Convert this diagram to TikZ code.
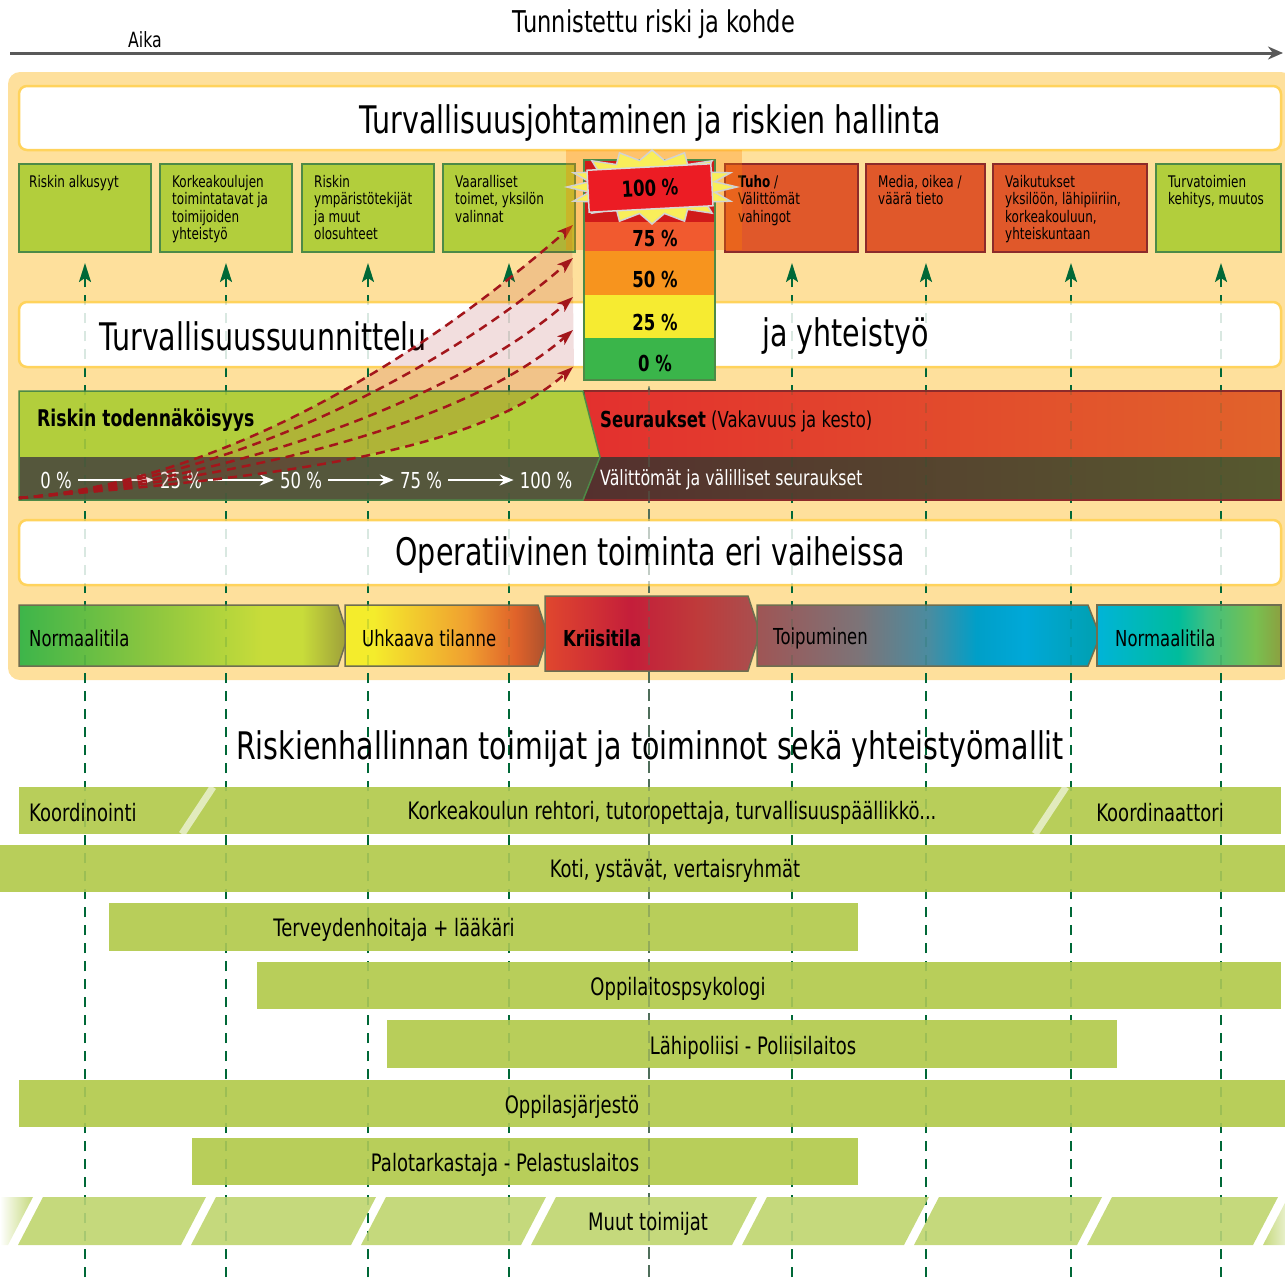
\documentclass[tikz,border=0pt]{standalone}
\usepackage{fontspec}
\setmainfont{DejaVu Sans}[FakeStretch=0.75]
\usetikzlibrary{arrows.meta,calc}

\definecolor{paneeli}{HTML}{FEE09C}
\definecolor{paneelireuna}{HTML}{FFD35C}
\definecolor{vihrea}{HTML}{B2CE3C}
\definecolor{vihreareuna}{HTML}{4D8A47}
\definecolor{punainen}{HTML}{E0582A}
\definecolor{punareuna}{HTML}{8C2B2B}
\definecolor{nuolivari}{HTML}{006837}
\definecolor{palkkivari}{HTML}{B8CE5A}
\definecolor{palkkivaalea}{HTML}{C5D97C}
\definecolor{tumma}{HTML}{55573C}
\definecolor{punaviiva}{HTML}{A3161B}
\definecolor{harmaa}{HTML}{6E6E50}
\definecolor{keski}{HTML}{4F6E5A}
\definecolor{sata}{HTML}{EC1C24}
\definecolor{m100}{HTML}{D01A1A}
\definecolor{m75}{HTML}{F15A2F}
\definecolor{m50}{HTML}{F7941E}
\definecolor{m25}{HTML}{F6EB31}
\definecolor{m0}{HTML}{3AB54A}
\definecolor{tahti}{HTML}{F9EE5A}
\definecolor{seur1}{HTML}{E3302E}
\definecolor{seur2}{HTML}{E1632B}
\definecolor{seur3}{HTML}{55302E}
\definecolor{seur4}{HTML}{56592F}
% vaiheiden varit
\definecolor{na1}{HTML}{3DB54A}\definecolor{na2}{HTML}{8CC63F}\definecolor{na3}{HTML}{C8DC3A}\definecolor{na4}{HTML}{9C9D3A}
\definecolor{uh1}{HTML}{F4EC2C}\definecolor{uh2}{HTML}{F0A030}\definecolor{uh3}{HTML}{E0622A}\definecolor{uh4}{HTML}{A8502E}
\definecolor{kr1}{HTML}{E0472E}\definecolor{kr2}{HTML}{C41E3A}\definecolor{kr3}{HTML}{BF3A3A}\definecolor{kr4}{HTML}{A85050}
\definecolor{to1}{HTML}{9F5555}\definecolor{to2}{HTML}{7C7478}\definecolor{to3}{HTML}{4A8CA0}\definecolor{to4}{HTML}{009FC8}
\definecolor{to5}{HTML}{00A8D8}\definecolor{to6}{HTML}{00A0B0}
\definecolor{nb1}{HTML}{00B4D8}\definecolor{nb2}{HTML}{00BC9C}\definecolor{nb3}{HTML}{40C080}\definecolor{nb4}{HTML}{78C050}\definecolor{nb5}{HTML}{8CA040}

% vaiheiden liukuvarit
\pgfdeclarehorizontalshading{normaaliA}{100bp}{color(0bp)=(na1); color(25bp)=(na1);
  color(45bp)=(na2); color(62bp)=(na3); color(68bp)=(na3); color(75bp)=(na4); color(100bp)=(na4)}
\pgfdeclarehorizontalshading{uhkaava}{100bp}{color(0bp)=(uh1); color(25bp)=(uh1);
  color(32bp)=(uh1); color(55bp)=(uh2); color(67bp)=(uh3); color(75bp)=(uh4); color(100bp)=(uh4)}
\pgfdeclarehorizontalshading{kriisi}{100bp}{color(0bp)=(kr1); color(25bp)=(kr1);
  color(45bp)=(kr2); color(60bp)=(kr3); color(75bp)=(kr4); color(100bp)=(kr4)}
\pgfdeclarehorizontalshading{toipuminen}{100bp}{color(0bp)=(to1); color(25bp)=(to1);
  color(40bp)=(to2); color(50bp)=(to3); color(57bp)=(to4); color(64bp)=(to5); color(75bp)=(to6); color(100bp)=(to6)}
\pgfdeclarehorizontalshading{normaaliB}{100bp}{color(0bp)=(nb1); color(25bp)=(nb1);
  color(47bp)=(nb2); color(55bp)=(nb3); color(68bp)=(nb4); color(75bp)=(nb5); color(100bp)=(nb5)}

\begin{document}
\begin{tikzpicture}[x=1pt,y=-1pt,
    teksti/.style={inner sep=0pt, yshift=-2pt},
    valkoinen/.style={draw=paneelireuna, line width=2.5pt, fill=white, rounded corners=8pt},
    laatikko/.style={draw=vihreareuna, line width=1.5pt, fill=vihrea},
    punalaatikko/.style={draw=punareuna, line width=1.5pt, fill=punainen},
    pieni/.style={teksti, font=\fontsize{16}{17.5}\selectfont, anchor=north west, align=left},
    iso/.style={teksti, font=\fontsize{38}{44}\selectfont},
    viiva/.style={nuolivari, line width=2pt, dash pattern=on 10pt off 8pt, -{Stealth[length=19pt,width=12pt,inset=4pt]}},
    haamu/.style={nuolivari, opacity=.15, line width=2pt, dash pattern=on 10pt off 8pt},
    keskiviiva/.style={keski, line width=1.5pt, dash pattern=on 12pt off 6pt, -{Stealth[length=14pt,width=9pt]}},
    palkki/.style={fill=palkkivari},
    palkkiteksti/.style={teksti, font=\fontsize{24}{28}\selectfont},
    mittari/.style={teksti, font=\bfseries\fontsize{22}{26}\selectfont},
    vaihe/.style={draw=harmaa, line width=1.5pt},
    vaiheteksti/.style={teksti, font=\fontsize{22}{26}\selectfont, anchor=west},
    prosentti/.style={white, font=\fontsize{22}{26}\selectfont, inner sep=6pt, yshift=-2pt},
    valkonuoli/.style={white, line width=2pt, -{Stealth[length=14pt,width=11pt]}},
    kayra/.style={punaviiva, line width=2.5pt, dash pattern=on 9pt off 6pt, -{Stealth[length=16pt,width=11pt,inset=4pt]}}]

    \clip (0,0) rectangle (1285,1277);

    % aika-akseli
    \coordinate (alku) at (10,53);
    \coordinate (loppu) at (1283,53);
    \draw[gray!70!black, line width=3pt, -{Stealth[length=15pt,width=13pt]}] (alku) -- (loppu);
    \node[teksti, font=\fontsize{21}{24}\selectfont] (aika) at (145,38) {Aika};
    \node[teksti, font=\fontsize{30}{34}\selectfont] (kohde) at (654,22) {Tunnistettu riski ja kohde};

    % taustapaneeli
    \path[fill=paneeli, rounded corners=12pt] (8,72) rectangle (1293,680);

    % pystyviivat
    \foreach \x [count=\i] in {85,226,368,509,792,926,1071,1221}{
        \coordinate (ala\i) at (\x,1277);
        \coordinate (yla\i) at (\x,263);
        \draw[viiva] (ala\i) -- (yla\i);
    }
    \coordinate (keskiala) at (649,1277);
    \coordinate (keskiyla) at (649,386);
    \draw[keskiviiva] (keskiala) -- (keskiyla);

    % johtaminen
    \path[valkoinen] (19,86) rectangle (1281,150);
    \node[iso] (johto) at (650,121) {Turvallisuusjohtaminen ja riskien hallinta};

    % riskin vaiheet
    \path[laatikko] (19,164) rectangle (151,252);
    \path[laatikko] (160,164) rectangle (292,252);
    \path[laatikko] (302,164) rectangle (434,252);
    \path[laatikko] (443,164) rectangle (575,252);
    \path[punalaatikko] (725,164) rectangle (858,252);
    \path[punalaatikko] (866,164) rectangle (985,252);
    \path[punalaatikko] (993,164) rectangle (1147,252);
    \path[laatikko] (1156,164) rectangle (1281,252);
    \node[pieni] (syyt) at (29,173) {Riskin alkusyyt};
    \node[pieni] (tavat) at (172,173) {Korkeakoulujen\\toimintatavat ja\\toimijoiden\\yhteistyö};
    \node[pieni] (tekijat) at (314,173) {Riskin\\ympäristötekijät\\ja muut\\olosuhteet};
    \node[pieni] (toimet) at (455,173) {Vaaralliset\\toimet, yksilön\\valinnat};
    \node[pieni] (tuho) at (738,173) {\textbf{Tuho} /\\Välittömät\\vahingot};
    \node[pieni] (media) at (878,173) {Media, oikea /\\väärä tieto};
    \node[pieni] (vaikutus) at (1005,173) {Vaikutukset\\yksilöön, lähipiiriin,\\korkeakouluun,\\yhteiskuntaan};
    \node[pieni] (kehitys) at (1168,173) {Turvatoimien\\kehitys, muutos};

    % suunnittelu
    \path[valkoinen] (19,302) rectangle (1281,367);

    % seuraukset
    \path[left color=seur1, right color=seur2] (584,391) rectangle (1281,457);
    \path[left color=seur3, right color=seur4] (584,457) rectangle (1281,500);
    \path[draw=punareuna, line width=1.5pt] (584,391) rectangle (1281,500);

    % todennakoisyys
    \path[fill=vihrea] (19,391) -- (583,391) -- (600,457) -- (19,457) -- cycle;
    \path[fill=tumma] (19,457) -- (600,457) -- (583,500) -- (19,500) -- cycle;
    \path[draw=vihreareuna, line width=1.5pt] (19,391) -- (583,391) -- (600,457) -- (583,500) -- (19,500) -- cycle;

    % operatiivinen
    \path[valkoinen] (19,520) rectangle (1281,585);

    % vaiheet
    \path[vaihe, shading=normaaliA] (19,605) -- (338,605) -- (348,636) -- (338,666) -- (19,666) -- cycle;
    \path[vaihe, shading=uhkaava] (345,605) -- (538,605) -- (548,636) -- (538,666) -- (345,666) -- cycle;
    \path[vaihe, shading=kriisi] (545,596) -- (748,596) -- (760,633) -- (748,671) -- (545,671) -- cycle;
    \path[vaihe, shading=toipuminen] (757,605) -- (1088,605) -- (1100,636) -- (1088,666) -- (757,666) -- cycle;
    \path[vaihe, shading=normaaliB] (1097,605) rectangle (1281,666);

    % toimijoiden palkit
    \path[palkki] (19,787) rectangle (1281,834);
    \draw[white, opacity=.6, line width=7pt] (213,787) -- (182,834);
    \draw[white, opacity=.6, line width=7pt] (1066,787) -- (1035,834);
    \path[palkki] (0,845) rectangle (1285,892);
    \path[palkki] (109,903) rectangle (858,951);
    \path[palkki] (257,962) rectangle (1281,1009);
    \path[palkki] (387,1020) rectangle (1117,1068);
    \path[palkki] (19,1080) rectangle (1285,1127);
    \path[palkki] (192,1138) rectangle (858,1185);

    % muut toimijat, katkoviivapalkki
    \foreach \a/\b in {43/206,216/376,386/546,556/757,767/929,939/1102,1112/1278}{
        \path[fill=palkkivaalea] (\a,1197) -- (\b,1197) -- (\b-25,1245) -- (\a-25,1245) -- cycle;
    }
    \path[left color=white, right color=palkkivaalea] (0,1197) -- (33,1197) -- (8,1245) -- (0,1245) -- cycle;
    \path[left color=palkkivaalea, right color=white] (1288,1197) -- (1300,1197) -- (1300,1245) -- (1263,1245) -- cycle;

    % viivat laatikoiden lapi
    \foreach \i in {1,...,8}{
        \draw[haamu] (ala\i) -- ($(yla\i)+(0,19)$);
    }
    \draw[keski, opacity=.35, line width=1.5pt, dash pattern=on 12pt off 6pt] (keskiala) -- (keskiyla);

    % tekstit
    \node[iso, anchor=west] (suunnittelu) at (99,334) {Turvallisuussuunnittelu};
    \node[iso, anchor=west] (yhteistyo) at (762,334) {ja yhteistyö};
    \node[teksti, font=\fontsize{22}{26}\selectfont, anchor=west] (seuraukset) at (600,419) {\textbf{Seuraukset} (Vakavuus ja kesto)};
    \node[teksti, font=\fontsize{21}{25}\selectfont, anchor=west, white] (valilliset) at (600,478) {Välittömät ja välilliset seuraukset};
    \node[teksti, font=\bfseries\fontsize{23}{27}\selectfont, anchor=west] (todennakoisyys) at (37,418) {Riskin todennäköisyys};
    \node[prosentti] (p0) at (56,478) {0 \%};
    \node[prosentti] (p25) at (181,478) {25 \%};
    \node[prosentti] (p50) at (301,478) {50 \%};
    \node[prosentti] (p75) at (421,478) {75 \%};
    \node[prosentti] (p100) at (546,478) {100 \%};
    \draw[valkonuoli] (p0) -- (p25);
    \draw[valkonuoli] (p25) -- (p50);
    \draw[valkonuoli] (p50) -- (p75);
    \draw[valkonuoli] (p75) -- (p100);
    \node[iso] (operatiivinen) at (650,553) {Operatiivinen toiminta eri vaiheissa};
    \node[vaiheteksti] (normaali1) at (29,636) {Normaalitila};
    \node[vaiheteksti] (uhka) at (362,636) {Uhkaava tilanne};
    \node[vaiheteksti, font=\bfseries\fontsize{22}{26}\selectfont] (kriisitila) at (563,636) {Kriisitila};
    \node[vaiheteksti] (toipu) at (773,636) {Toipuminen};
    \node[vaiheteksti] (normaali2) at (1115,636) {Normaalitila};
    \node[teksti, font=\fontsize{38}{42}\selectfont] (toimijat) at (650,747) {Riskienhallinnan toimijat ja toiminnot sekä yhteistyömallit};
    \node[palkkiteksti, anchor=west] (koordinointi) at (29,811) {Koordinointi};
    \node[palkkiteksti] (rehtori) at (672,811) {Korkeakoulun rehtori, tutoropettaja, turvallisuuspäällikkö...};
    \node[palkkiteksti] (koordinaattori) at (1160,811) {Koordinaattori};
    \node[palkkiteksti] (koti) at (675,869) {Koti, ystävät, vertaisryhmät};
    \node[palkkiteksti] (terveys) at (394,928) {Terveydenhoitaja + lääkäri};
    \node[palkkiteksti] (psykologi) at (678,987) {Oppilaitospsykologi};
    \node[palkkiteksti] (poliisi) at (753,1046) {Lähipoliisi - Poliisilaitos};
    \node[palkkiteksti] (jarjesto) at (572,1105) {Oppilasjärjestö};
    \node[palkkiteksti] (palo) at (505,1163) {Palotarkastaja - Pelastuslaitos};
    \node[palkkiteksti] (muut) at (648,1222) {Muut toimijat};

    % todennakoisyyden kayrat
    \path[fill=punaviiva, opacity=.14] (19,498) .. controls (260,478) and (470,315) .. (572,225)
        -- (574,367) .. controls (470,457) and (260,478) .. (19,498);
    \foreach \ye in {225,258,297,330,367}{
        \coordinate (k\ye) at (573,\ye);
        \coordinate (origo) at (19,498);
        \draw[kayra] (origo) .. controls (260,478) and (470,\ye+90) .. (k\ye);
    }

    % mittari
    \path[fill=orange, opacity=.3] (566,150) rectangle (742,250);
    \path[fill=m100] (584,160) rectangle (715,222);
    \path[fill=m75] (584,222) rectangle (715,251);
    \path[fill=m50] (584,251) rectangle (715,295);
    \path[fill=m25] (584,295) rectangle (715,338);
    \path[fill=m0] (584,338) rectangle (715,380);
    \path[draw=vihreareuna, line width=2pt] (584,160) rectangle (715,380);

    % tahti
    \path[fill=tahti, draw=gray!35, line width=1.5pt]
        (652+85,187) \foreach \k in {0,...,15}{
            -- ({652+64*cos(\k*22.5+11.25)},{187+27*sin(\k*22.5+11.25)})
            -- ({652+85*cos((\k+1)*22.5)},{187+37*sin((\k+1)*22.5)})
        } -- cycle;
    \node[mittari, draw=gray!30, line width=1.5pt, fill=sata, minimum width=124pt, minimum height=42pt, rotate=3, yshift=0pt] (sata) at (650,186) {100 \%};
    \node[mittari] (m75) at (655,236) {75 \%};
    \node[mittari] (m50) at (655,277) {50 \%};
    \node[mittari] (m25) at (655,320) {25 \%};
    \node[mittari] (m0) at (655,361) {0 \%};
\end{tikzpicture}
\end{document}
